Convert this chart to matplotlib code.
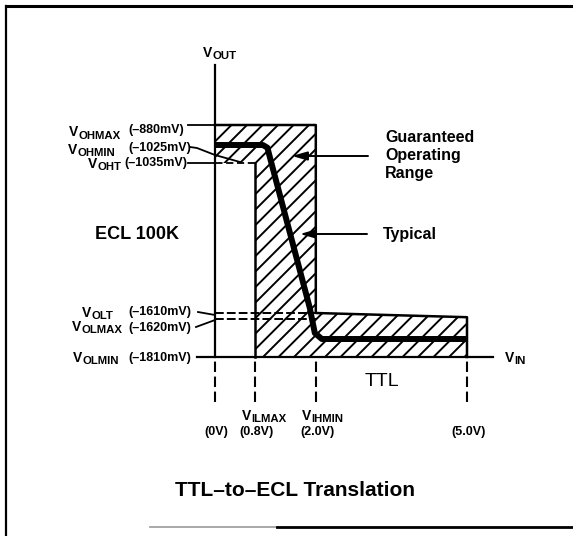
import numpy as np
import matplotlib
matplotlib.use("Agg")
import matplotlib.pyplot as plt
import matplotlib.transforms as mtransforms
from matplotlib.patches import Polygon
from matplotlib.lines import Line2D
from matplotlib.collections import LineCollection

plt.rcParams['font.family'] = ['Liberation Sans', 'DejaVu Sans']

# ECL 100K output levels (mV)
level_names = ['OHMAX', 'OHMIN', 'OHT', 'OLT', 'OLMAX', 'OLMIN']
level_mv = [-880, -1025, -1035, -1610, -1620, -1810]

# TTL input thresholds (V)
vin_names = ['', 'ILMAX', 'IHMIN', '']
vin_volts = [0.0, 0.8, 2.0, 5.0]

# guaranteed operating range outline (V, mV)
range_v = [0.0, 2.0, 2.0, 5.0, 5.0, 0.8, 0.8, 0.0]
range_mv = [-880, -880, -1610, -1617, -1810, -1810, -1035, -1035]

# typical transfer curve (V, mV)
typ_v = [0.0, 0.95, 1.04, 1.10, 1.88, 1.98, 2.12, 5.0]
typ_mv = [-1025, -1025, -1026.5, -1033, -1590, -1690, -1720, -1720]

W, H = 573, 536
fig = plt.figure(figsize=(W / 100, H / 100), dpi=100)
ax = fig.add_axes([0, 0, 1, 1])
ax.set_axis_off()

# schematic: the levels are spread out, not drawn to scale
sched_mv = [-2700, -1810, -1620, -1610, -1035, -1025, -880, 0]
sched_h = [0, 179, 217, 223, 373, 391, 411, 536]
ax.set_yscale('function',
              functions=(lambda v: np.interp(v, sched_mv, sched_h),
                         lambda h: np.interp(h, sched_h, sched_mv)))
ax.set_ylim(-2700, 0)
x0, ppv = 215, 50.4
ax.set_xlim(-x0 / ppv, (W - x0) / ppv)

# pixel coords from the top-left corner, for labels and leaders
PX = mtransforms.Affine2D().scale(1, -1).translate(0, H)
XDATA = mtransforms.blended_transform_factory(ax.transData, PX)

# hatched guaranteed range (hatch drawn by hand for a tighter pitch)
poly = Polygon(np.column_stack([range_v, range_mv]), closed=True,
               facecolor='white', edgecolor='none', zorder=1)
ax.add_patch(poly)
pitch = 15.5
segs = [[(c, 0), (c - H, H)] for c in np.arange(0, W + H, pitch)]
hatch = LineCollection(segs, transform=PX, colors='k', linewidths=1.4, zorder=1.5)
ax.add_collection(hatch, autolim=False)
hatch.set_clip_path(poly)

ax.plot(range_v[:5], range_mv[:5], color='k', lw=1.8, zorder=2)
ax.plot(range_v[5:7], range_mv[5:7], color='k', lw=1.8, zorder=2)
ax.plot(range_v[6:8], range_mv[6:8], color='k', lw=1.3, ls=(0, (4, 2)), zorder=2)

# VOLT / VOLMAX dashed levels
ax.hlines([level_mv[3], level_mv[4]], 0, vin_volts[2], colors='k', lw=1.4,
          linestyles=[(0, (4.5, 1.6))], zorder=2)

# axes
ax.plot([0, 0], [-460, level_mv[-1]], color='k', lw=1.6, zorder=3)
ax.plot([-0.36, 5.52], [level_mv[-1], level_mv[-1]], color='k', lw=1.6, zorder=3)
for v in vin_volts:
    ax.plot([v, v], [level_mv[-1], -2050], color='k', lw=1.5,
            ls=(5, (5, 2.2)), zorder=3)

# typical curve
ax.plot(typ_v, typ_mv, color='k', lw=4.3, solid_joinstyle='round',
        solid_capstyle='butt', zorder=4)


def vsub(x, y, sub, transform=PX, vsize=10, ssize=8.2):
    v = ax.text(x, y, 'V', transform=transform, fontsize=vsize,
                weight='bold', ha='left', va='baseline')
    ax.annotate(sub, xy=(1, 0), xycoords=v, xytext=(0.2, 0.6),
                textcoords='offset points', fontsize=ssize, weight='bold',
                ha='left', va='baseline')


# level labels on the left
name_xy = [(69, 136.5), (68, 153.5), (88, 167.5), (82, 317), (72, 331), (73, 362)]
mv_xy = [(128, 133), (128, 151), (124, 166), (128, 315), (128, 331), (128, 361)]
for name, mv, (nx, ny), (mx, my) in zip(level_names, level_mv, name_xy, mv_xy):
    vsub(nx, ny, name)
    ax.text(mx, my, f'(\u2013{-mv}mV)', transform=PX, fontsize=9,
            weight='bold', ha='left', va='baseline')

leaders = [
    [(188, 125), (215, 125)],
    [(190, 147), (197, 148), (215, 155), (240, 162)],
    [(188, 163), (215, 163)],
    [(198, 312), (215, 315)],
    [(196, 327), (215, 320)],
]
for pts in leaders:
    xs, ys = zip(*pts)
    ax.add_line(Line2D(xs, ys, transform=PX, color='k', lw=1.3))

vsub(203, 57, 'OUT')
vsub(505, 362, 'IN')

# input threshold labels under the axis
for name, v in zip(vin_names, vin_volts):
    if name:
        t = ax.annotate('V', xy=(v, 420), xycoords=XDATA, xytext=(-10, 0),
                        textcoords='offset points', fontsize=10, weight='bold',
                        ha='left', va='baseline')
        ax.annotate(name, xy=(1, 0), xycoords=t, xytext=(0.2, 0.6),
                    textcoords='offset points', fontsize=8.2, weight='bold',
                    ha='left', va='baseline')
    ax.annotate(f'({v:.1f}V)' if v else '(0V)', xy=(v, 435), xycoords=XDATA,
                xytext=(1, 0), textcoords='offset points', fontsize=9,
                weight='bold', ha='center', va='baseline')

# callouts
for txt, y in zip(['Guaranteed', 'Operating', 'Range'], [141.7, 160, 178.3]):
    ax.text(385, y, txt, transform=PX, fontsize=11.5, weight='bold',
            ha='left', va='baseline')
ax.text(383, 239, 'Typical', transform=PX, fontsize=11.5, weight='bold',
        ha='left', va='baseline')
arrow = dict(arrowstyle='-|>,head_length=0.45,head_width=0.13', mutation_scale=20,
             lw=1.4, color='k', shrinkA=0, shrinkB=0)
ax.annotate('', xy=(292, 156), xytext=(368, 156), xycoords=PX, textcoords=PX,
            arrowprops=arrow)
ax.annotate('', xy=(300, 234), xytext=(367, 234), xycoords=PX, textcoords=PX,
            arrowprops=arrow)

ax.text(95, 239, 'ECL 100K', transform=PX, fontsize=13, weight='bold',
        ha='left', va='baseline')
ax.text(365, 386, 'TTL', transform=PX, fontsize=14, ha='left', va='baseline')
ax.text(295, 496, 'TTL\u2013to\u2013ECL Translation', transform=PX, fontsize=15,
        weight='bold', ha='center', va='baseline')

# frame
fig.add_artist(Line2D([6, W], [6, 6], transform=PX, color='k', lw=2.2))
fig.add_artist(Line2D([6, 6], [6, H], transform=PX, color='k', lw=1.6))
fig.add_artist(Line2D([150, 277], [527, 527], transform=PX, color='0.6', lw=1.2))
fig.add_artist(Line2D([277, W], [527, 527], transform=PX, color='k', lw=2))

fig.savefig('out.png', dpi=100)
